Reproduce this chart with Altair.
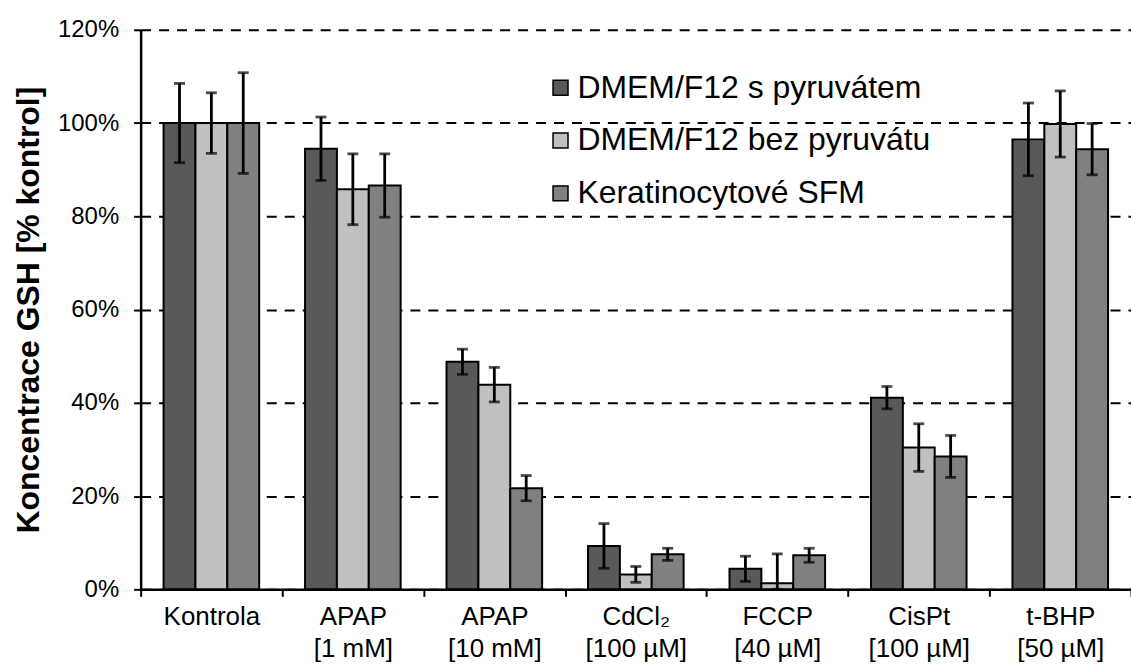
import altair as alt
import pandas as pd

# Treatment groups (x axis) and culture media (series)
groups = ["Kontrola", "APAP\n[1 mM]", "APAP\n[10 mM]", "CdCl₂\n[100 µM]",
          "FCCP\n[40 µM]", "CisPt\n[100 µM]", "t-BHP\n[50 µM]"]
series = ["DMEM/F12 s pyruvátem", "DMEM/F12 bez pyruvátu", "Keratinocytové SFM"]
colors = ["#595959", "#c0c0c0", "#808080"]

# GSH concentration, % of control, with error (±)
s_pyruvatem = [100, 94.5, 48.8, 9.3, 4.4, 41.1, 96.5]
s_pyruvatem_err = [8.5, 6.8, 2.7, 4.8, 2.7, 2.4, 7.8]
bez_pyruvatu = [100, 85.8, 43.9, 3.2, 1.3, 30.4, 99.8]
bez_pyruvatu_err = [6.5, 7.6, 3.7, 1.7, 6.3, 5.1, 7.1]
keratinocyty = [100, 86.6, 21.7, 7.5, 7.3, 28.5, 94.4]
keratinocyty_err = [10.8, 6.8, 2.7, 1.3, 1.5, 4.5, 5.5]

y_ticks = [0, 20, 40, 60, 80, 100, 120]

rows = []
for name, vals, errs in zip(series,
                            [s_pyruvatem, bez_pyruvatu, keratinocyty],
                            [s_pyruvatem_err, bez_pyruvatu_err, keratinocyty_err]):
    for g, v, e in zip(groups, vals, errs):
        rows.append({"skupina": g, "medium": name, "hodnota": v,
                     "lo": max(0, v - e), "hi": v + e})
df = pd.DataFrame(rows)

FONT = "Liberation Sans"

x_enc = alt.X("skupina:N", sort=groups,
              scale=alt.Scale(paddingInner=0, paddingOuter=0),
              axis=alt.Axis(title=None, labelAngle=0, labelFontSize=26,
                            labelColor="black", labelLineHeight=32,
                            labelExpr="split(datum.label, '\\n')",
                            labelPadding=7, labelBaseline="top",
                            labelLimit=0,
                            tickBand="extent", tickSize=7, tickWidth=2,
                            tickColor="black", domainColor="black",
                            domainWidth=2.5, grid=False))
xo_enc = alt.XOffset("medium:N", sort=series,
                     scale=alt.Scale(paddingInner=0, paddingOuter=0.72))

base = alt.Chart(df)

bars = base.mark_bar(stroke="black", strokeWidth=2).encode(
    x=x_enc,
    xOffset=xo_enc,
    y=alt.Y("hodnota:Q",
            scale=alt.Scale(domain=[0, 120], nice=False),
            axis=alt.Axis(values=y_ticks, labelExpr="datum.value + '%'",
                          title="Koncentrace GSH [% kontrol]",
                          titleFontSize=32, titleFontWeight="bold",
                          titleColor="black", titlePadding=12,
                          labelFontSize=24, labelColor="black",
                          labelPadding=15, tickSize=7, tickWidth=2,
                          tickColor="black", domainColor="black",
                          domainWidth=2.5, grid=True, gridColor="black",
                          gridWidth=2, gridDash=[10, 8])),
    color=alt.Color("medium:N", sort=series,
                    scale=alt.Scale(domain=series, range=colors),
                    legend=alt.Legend(orient="none", legendX=405, legendY=42,
                                      title=None, symbolType="square",
                                      symbolSize=225, symbolStrokeColor="black",
                                      symbolStrokeWidth=1.5, labelFontSize=32,
                                      labelColor="black", rowPadding=21,
                                      labelOffset=1, labelLimit=0, padding=0)),
)

err_rules = base.mark_rule(color="black", strokeWidth=2.8).encode(
    x=alt.X("skupina:N", sort=groups), xOffset=alt.XOffset("medium:N", sort=series),
    y="lo:Q", y2="hi:Q")

caps_hi = base.mark_tick(orient="horizontal", color="black", size=11,
                         thickness=2.8).encode(
    x=alt.X("skupina:N", sort=groups), xOffset=alt.XOffset("medium:N", sort=series),
    y="hi:Q")

caps_lo = base.mark_tick(orient="horizontal", color="black", size=11,
                         thickness=2.8).encode(
    x=alt.X("skupina:N", sort=groups), xOffset=alt.XOffset("medium:N", sort=series),
    y="lo:Q")

chart = alt.layer(bars, err_rules, caps_hi, caps_lo).properties(
    width=993, height=561,
    autosize=alt.AutoSizeParams(type="none"),
    padding={"left": 141, "top": 29, "right": 0, "bottom": 76},
).configure(font=FONT).configure_view(stroke=None)

chart.save("out.html", embed_options={"renderer": "svg", "actions": False})
